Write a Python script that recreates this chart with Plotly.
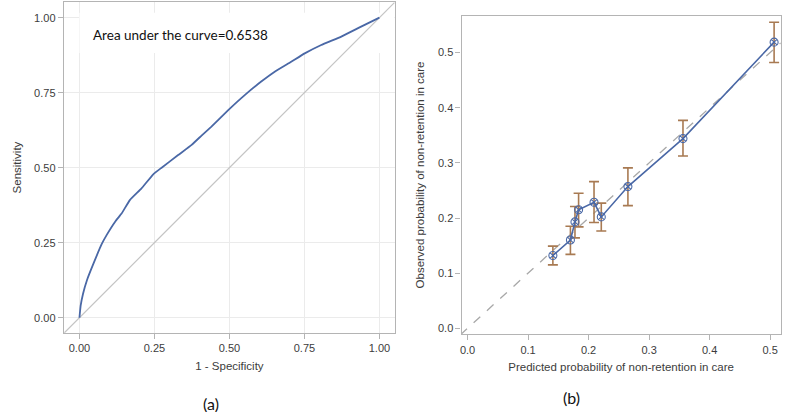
import plotly.graph_objects as go

# ROC curve (left panel)
roc_fpr = [0, 0.004, 0.012, 0.025, 0.047, 0.074, 0.091, 0.119, 0.141, 0.168, 0.207, 0.246,
           0.274, 0.329, 0.374, 0.407, 0.44, 0.496, 0.551, 0.606, 0.651, 0.706,
           0.751, 0.806, 0.873, 0.939, 1.0]
roc_tpr = [0, 0.04, 0.08, 0.125, 0.181, 0.245, 0.276, 0.32, 0.348, 0.392, 0.431, 0.478,
           0.5, 0.542, 0.576, 0.607, 0.637, 0.692, 0.742, 0.787, 0.82, 0.853,
           0.881, 0.909, 0.937, 0.97, 1.0]
auc_text = "Area under the curve=0.6538"

# Calibration plot (right panel)
pred = [0.141, 0.170, 0.1775, 0.1835, 0.209, 0.221, 0.265, 0.356, 0.5066]
obs = [0.132, 0.160, 0.193, 0.215, 0.2285, 0.202, 0.257, 0.344, 0.519]
obs_hi = [0.149, 0.185, 0.221, 0.245, 0.266, 0.227, 0.291, 0.377, 0.555]
obs_lo = [0.115, 0.134, 0.164, 0.184, 0.192, 0.1765, 0.2225, 0.3126, 0.482]

left_ticks = [0, 0.25, 0.5, 0.75, 1.0]
left_ticklabels = ["0.00", "0.25", "0.50", "0.75", "1.00"]
right_ticks = [0, 0.1, 0.2, 0.3, 0.4, 0.5]
right_ticklabels = ["0.0", "0.1", "0.2", "0.3", "0.4", "0.5"]

blue = "#4a68a6"
grid = "#ebebeb"
frame = "#b4b4b4"
tickfont = dict(family="Liberation Sans, Arial", size=11, color="#3c3c3c")
titlefont = dict(family="Liberation Sans, Arial", size=11.5, color="#3c3c3c")

fig = go.Figure()

# Left: diagonal reference
fig.add_trace(go.Scatter(x=[-0.05, 1.05], y=[-0.05, 1.05], mode="lines",
                         line=dict(color="#c4c4c4", width=1.2),
                         xaxis="x", yaxis="y", showlegend=False, hoverinfo="skip"))
fig.add_trace(go.Scatter(x=roc_fpr, y=roc_tpr, mode="lines",
                         line=dict(color=blue, width=1.8, shape="spline", smoothing=0.3),
                         xaxis="x", yaxis="y", showlegend=False))

# Right: dashed diagonal
fig.add_trace(go.Scatter(x=[-0.012, 0.5176], y=[-0.012, 0.5176], mode="lines",
                         line=dict(color="#a8a8a8", width=1.3, dash="dash"),
                         xaxis="x2", yaxis="y2", showlegend=False, hoverinfo="skip"))
fig.add_trace(go.Scatter(
    x=pred, y=obs, mode="lines+markers",
    line=dict(color=blue, width=1.6),
    marker=dict(symbol="circle-x-open", size=8, color=blue, line=dict(width=1.1)),
    error_y=dict(type="data", symmetric=False,
                 array=[h - o for h, o in zip(obs_hi, obs)],
                 arrayminus=[o - l for o, l in zip(obs, obs_lo)],
                 color="#a87a52", thickness=1.6, width=5),
    xaxis="x2", yaxis="y2", showlegend=False))

axis_common = dict(showline=True, linecolor=frame, linewidth=1.2, mirror=True,
                   ticks="outside", ticklen=5, tickcolor=frame, tickfont=tickfont,
                   zeroline=False)

fig.update_layout(
    width=800, height=412,
    margin=dict(l=0, r=0, t=0, b=0),
    paper_bgcolor="white", plot_bgcolor="white",
    xaxis=dict(domain=[0.0775, 0.4925], range=[-0.052, 1.052],
               tickvals=left_ticks, ticktext=left_ticklabels,
               showgrid=True, gridcolor=grid, gridwidth=1.2,
               title=dict(text="1 - Specificity", font=titlefont, standoff=8),
               anchor="y", **axis_common),
    yaxis=dict(domain=[0.1917, 0.995], range=[-0.051, 1.052],
               tickvals=left_ticks, ticktext=left_ticklabels,
               showgrid=True, gridcolor=grid, gridwidth=1.2,
               title=dict(text="Sensitivity", font=titlefont, standoff=10),
               anchor="x", **axis_common),
    xaxis2=dict(domain=[0.5759, 0.9759], range=[-0.0099, 0.5176],
                tickvals=right_ticks, ticktext=right_ticklabels, showgrid=False,
                title=dict(text="Predicted probability of non-retention in care",
                           font=titlefont, standoff=8),
                anchor="y2", **axis_common),
    yaxis2=dict(domain=[0.1886, 0.962], range=[-0.0109, 0.567],
                tickvals=right_ticks, ticktext=right_ticklabels, showgrid=False,
                title=dict(text="Observed probability of non-retention in care",
                           font=titlefont, standoff=10),
                anchor="x2", **axis_common),
    shapes=[dict(type="rect", xref="x", yref="y", x0=0.0, x1=1.05, y0=0.882, y1=1.016,
                 fillcolor="white", line=dict(width=0), layer="between")],
    annotations=[
        dict(text=auc_text, xref="paper", yref="paper", x=89 / 800, y=1 - 35 / 412,
             xanchor="left", yanchor="middle", showarrow=False,
             font=dict(family="Lato, Open Sans", size=13.5, color="#111111")),
        dict(text="(a)", xref="paper", yref="paper", x=210 / 800, y=1 - 403 / 412,
             xanchor="center", yanchor="middle", showarrow=False,
             font=dict(family="Lato, Open Sans", size=16, color="#111111")),
        dict(text="(b)", xref="paper", yref="paper", x=571 / 800, y=1 - 397 / 412,
             xanchor="center", yanchor="middle", showarrow=False,
             font=dict(family="Lato, Open Sans", size=16, color="#111111")),
    ],
)

fig.write_html("out.html", config={"displayModeBar": False},
               post_script="document.body.style.margin='0';document.body.style.overflow='hidden';")
